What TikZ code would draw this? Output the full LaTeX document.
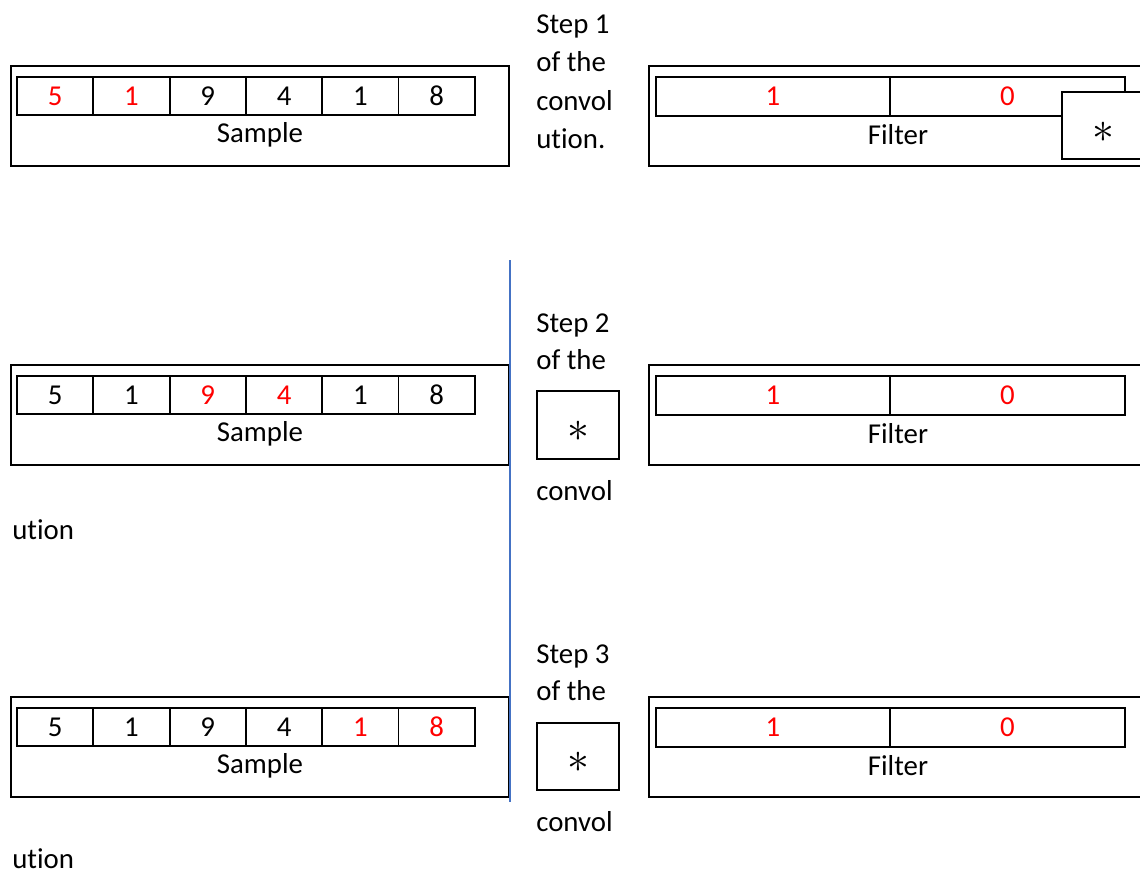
\documentclass[tikz,border=0pt]{standalone}
\usepackage{fontspec}
\setmainfont[Ligatures=NoCommon]{Carlito}
\usetikzlibrary{positioning}
\definecolor{hot}{HTML}{FF0000}
\definecolor{trenn}{HTML}{4472C4}
\tikzset{
  rahmen/.style={draw=black,line width=1.1pt},
  zelle/.style={draw=black,line width=1.1pt,minimum width=1.526cm,minimum height=0.76cm,inner sep=0pt,outer sep=0pt},
  fzelle/.style={zelle,minimum width=4.69cm,minimum height=0.78cm,text=hot},
  sternbox/.style={rahmen,fill=white},
  stern/.style={font=\fontsize{25}{25}\selectfont},
  txt/.style={anchor=base west,inner sep=0pt},
}

\begin{document}
\begin{tikzpicture}[x=0.02cm,y=-0.02cm,font=\fontsize{16.4}{21.7}\selectfont]
  \useasboundingbox (0,0) rectangle (1140,873);
  % sample and filter, one row per step
  \foreach \dy/\ha/\hb [count=\r] in {0/1/2,299/3/4,631/5/6}{
    \draw[rahmen] (11,66+\dy) rectangle (509,166+\dy);
    \foreach \v [count=\i] in {5,1,9,4,1,8}{
      \ifnum\i=\ha \def\col{hot}\else\ifnum\i=\hb \def\col{hot}\else\def\col{black}\fi\fi
      \node[zelle,text=\col] (s\r\i) at ({17+(\i-0.5)*76.3},{96+\dy}) {\v};
    }
    \node[anchor=base,inner sep=0pt] (sample\r) at (260,142+\dy) {Sample};
    \draw[rahmen] (649,66+\dy) rectangle (1160,166+\dy);
    \node[fzelle] (f\r1) at (773,96.5+\dy) {1};
    \node[fzelle] (f\r2) at (1007.5,96.5+\dy) {0};
    \node[anchor=base,inner sep=0pt] (filter\r) at (898,144+\dy) {Filter};
  }
  % step texts
  \node[txt] (st1a) at (536,33) {Step 1};
  \node[txt] (st1b) at (536,71.5) {of the};
  \node[txt] (st1c) at (536,110) {convol};
  \node[txt] (st1d) at (536,148) {ution.};
  \node[txt] (st2a) at (536,332) {Step 2};
  \node[txt] (st2b) at (536,369) {of the};
  \node[txt] (st2c) at (536,500) {convol};
  \node[txt] (st2d) at (12,539) {ution};
  \node[txt] (st3a) at (536,663) {Step 3};
  \node[txt] (st3b) at (536,700) {of the};
  \node[txt] (st3c) at (536,831) {convol};
  \node[txt] (st3d) at (12,868) {ution};
  % convolution operator boxes
  \draw[sternbox] (1062,92) rectangle (1160,159);
  \node[stern] (op1) at (1103,132) {$\ast$};
  \draw[sternbox] (537,391) rectangle (619,459);
  \node[stern] (op2) at (578,431) {$\ast$};
  \draw[sternbox] (537,723) rectangle (619,790);
  \node[stern] (op3) at (578,762) {$\ast$};
  % divider
  \coordinate (top) at (510,260);
  \coordinate (bot) at (510,802);
  \draw[trenn,line width=0.7pt] (top) -- (bot);
\end{tikzpicture}
\end{document}
